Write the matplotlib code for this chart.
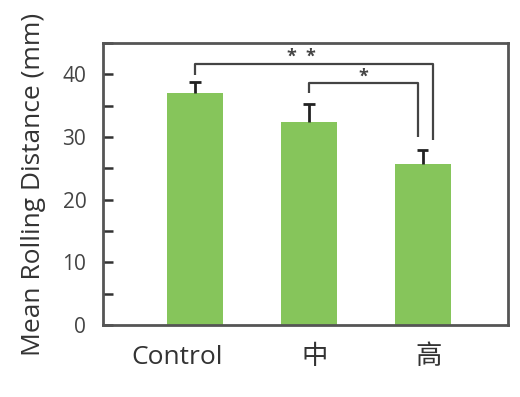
import matplotlib
matplotlib.use("Agg")
import matplotlib.pyplot as plt
from matplotlib.ticker import MultipleLocator

plt.rcParams['font.family'] = ['Open Sans', 'Noto Sans CJK SC', 'DejaVu Sans']

# данные
groups = ["Control", "中", "高"]
means = [37.0, 32.4, 25.7]
errs = [1.7, 2.8, 2.2]

# скобки значимости: (левый x, правый x, y левой ножки, y верха, y правой ножки, метка)
brackets = [
    (0, 2.09, 39.8, 41.6, 29.5, "*  *", 0.93, 42.7),
    (1, 1.96, 37.0, 38.6, 30.0, "*", 1.48, 39.6),
]

bar_color = "#86c55b"
axis_color = "#555555"

fig = plt.figure(figsize=(5.2, 3.97), dpi=100)
ax = fig.add_axes([0.198, 0.181, 0.779, 0.711])

x = list(range(len(groups)))
ax.bar(x, means, width=0.49, color=bar_color, zorder=2)

# только верхние усы
tops = [m + e for m, e in zip(means, errs)]
ax.vlines(x, means, tops, color="#222222", lw=2, zorder=3)
ax.hlines(tops, [i - 0.05 for i in x], [i + 0.05 for i in x], color="#222222", lw=2, zorder=3)

for x1, x2, y1, ytop, y2, label, tx, ty in brackets:
    ax.plot([x1, x1, x2, x2], [y1, ytop, ytop, y2], color="#444444", lw=1.6,
            solid_capstyle="butt", zorder=3)
    ax.text(tx, ty, label, ha="center", va="center", fontsize=13,
            color="#444444", fontweight="bold")

ax.set_xlim(-0.81, 2.75)
ax.set_ylim(0, 45)
ax.yaxis.set_major_locator(MultipleLocator(10))
ax.yaxis.set_minor_locator(MultipleLocator(5))
ax.set_xticks(x)
ax.set_xticklabels([""] * len(groups))

# подписи категорий (Control на оригинале сдвинута влево)
label_dx = [-13, 4, 4]
for i, g in enumerate(groups):
    ax.annotate(g, (i, 0), xycoords=("data", "axes fraction"), xytext=(label_dx[i], -14),
                textcoords="offset points", ha="center", va="top", fontsize=19,
                color="#333333", annotation_clip=False)

for side in ["left", "right", "top", "bottom"]:
    ax.spines[side].set_color(axis_color)
    ax.spines[side].set_linewidth(2)

ax.tick_params(axis="y", which="both", direction="in", length=7, width=1.8,
               color="#333333", labelsize=15, labelcolor="#444444", pad=12)
ax.tick_params(axis="x", length=0)

ax.set_ylabel("Mean Rolling Distance (mm)", fontsize=19, color="#333333", labelpad=12)

fig.savefig("out.png", dpi=100)
